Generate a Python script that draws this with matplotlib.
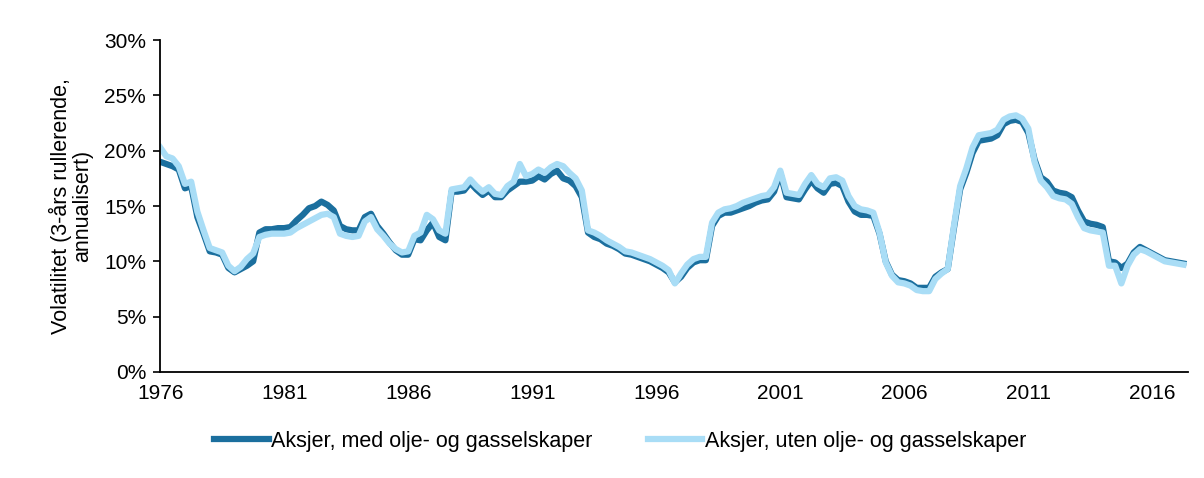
import numpy as np
import matplotlib.pyplot as plt
from matplotlib.ticker import PercentFormatter

plt.rcParams['font.family'] = ['Liberation Sans', 'DejaVu Sans']

# quarterly observations, 1976 Q1 .. 2017 Q2
start_year = 1976
med_olje = [
    19.0, 18.8, 18.6, 18.3, 16.6, 16.8, 14.0, 12.5,   # 1976-1977
    10.9, 10.8, 10.6, 9.4, 9.0, 9.3, 9.6, 10.0,       # 1978-1979
    12.6, 12.9, 12.9, 13.0, 13.0, 13.1, 13.7, 14.2,   # 1980-1981
    14.8, 15.0, 15.4, 15.1, 14.6, 13.2, 12.9, 12.8,   # 1982-1983
    12.8, 14.0, 14.3, 13.2, 12.5, 11.7, 11.0, 10.6,   # 1984-1985
    10.6, 12.0, 11.9, 12.8, 13.5, 12.2, 11.9, 16.3,   # 1986-1987
    16.3, 16.4, 17.1, 16.5, 16.0, 16.4, 15.8, 15.8,   # 1988-1989
    16.4, 16.8, 17.2, 17.2, 17.3, 17.7, 17.4, 17.9,   # 1990-1991
    18.2, 17.5, 17.3, 16.8, 15.8, 12.6, 12.2, 12.0,   # 1992-1993
    11.6, 11.4, 11.1, 10.7, 10.6, 10.4, 10.2, 10.0,   # 1994-1995
    9.7, 9.4, 9.0, 8.1, 8.6, 9.4, 9.9, 10.1,          # 1996-1997
    10.1, 13.2, 14.1, 14.4, 14.4, 14.6, 14.8, 15.0,   # 1998-1999
    15.3, 15.5, 15.6, 16.3, 18.0, 15.8, 15.7, 15.6,   # 2000-2001
    16.5, 17.3, 16.6, 16.2, 17.0, 17.1, 16.8, 15.4,   # 2002-2003
    14.5, 14.2, 14.2, 14.1, 12.5, 10.0, 8.8, 8.3,     # 2004-2005
    8.2, 8.0, 7.6, 7.6, 7.6, 8.6, 9.0, 9.3,           # 2006-2007
    13.0, 16.5, 18.0, 19.8, 20.9, 21.0, 21.1, 21.4,   # 2008-2009
    22.4, 22.7, 22.8, 22.6, 21.6, 19.2, 17.6, 17.2,   # 2010-2011
    16.4, 16.2, 16.1, 15.8, 14.6, 13.6, 13.4, 13.3,   # 2012-2013
    13.1, 10.0, 9.9, 9.4, 9.8, 10.8, 11.3, 11.0,      # 2014-2015
    10.7, 10.4, 10.1, 10.0, 9.9, 9.8,                 # 2016-2017
]
uten_olje = [
    20.3, 19.5, 19.3, 18.6, 17.0, 17.2, 14.5, 12.8,
    11.2, 11.0, 10.8, 9.6, 9.1, 9.5, 10.2, 10.7,
    12.2, 12.4, 12.5, 12.5, 12.5, 12.6, 13.0, 13.3,
    13.6, 13.9, 14.2, 14.3, 14.0, 12.5, 12.3, 12.2,
    12.3, 13.6, 14.0, 12.9, 12.3, 11.6, 11.1, 10.8,
    10.9, 12.3, 12.6, 14.2, 13.8, 12.8, 12.5, 16.5,
    16.6, 16.7, 17.4, 16.8, 16.3, 16.7, 16.1, 16.0,
    16.8, 17.2, 18.8, 17.7, 17.9, 18.3, 18.0, 18.5,
    18.8, 18.6, 18.0, 17.5, 16.4, 12.8, 12.6, 12.3,
    11.9, 11.6, 11.3, 10.9, 10.8, 10.6, 10.4, 10.2,
    9.9, 9.6, 9.2, 8.0, 8.9, 9.7, 10.2, 10.4,
    10.4, 13.5, 14.4, 14.7, 14.8, 15.0, 15.3, 15.5,
    15.7, 15.9, 16.0, 16.7, 18.2, 16.2, 16.1, 16.0,
    17.0, 17.8, 17.0, 16.7, 17.5, 17.6, 17.3, 15.9,
    15.0, 14.7, 14.6, 14.4, 12.6, 9.9, 8.7, 8.1,
    8.0, 7.8, 7.4, 7.3, 7.3, 8.4, 8.9, 9.3,
    13.2, 16.8, 18.4, 20.3, 21.4, 21.5, 21.6, 21.9,
    22.8, 23.1, 23.2, 22.9, 22.0, 19.0, 17.3, 16.7,
    15.9, 15.7, 15.6, 15.2, 14.0, 13.0, 12.8, 12.7,
    12.6, 9.6, 9.6, 8.0, 9.6, 10.6, 11.1, 10.9,
    10.6, 10.3, 10.0, 9.9, 9.8, 9.7,
]
tick_years = [1976, 1981, 1986, 1991, 1996, 2001, 2006, 2011, 2016]

t = start_year + np.arange(len(med_olje)) * 0.25

fig = plt.figure(figsize=(12.04, 4.78), dpi=100)
ax = fig.add_axes([0.133, 0.222, 0.854, 0.694])

ax.plot(t, med_olje, color='#1b6f9e', lw=4.5, solid_joinstyle='round',
        label='Aksjer, med olje- og gasselskaper')
ax.plot(t, uten_olje, color='#a9ddf6', lw=4.5, solid_joinstyle='round',
        label='Aksjer, uten olje- og gasselskaper')

ax.set_xlim(1976, 2017.45)
ax.set_ylim(0, 30)
ax.set_yticks(np.arange(0, 31, 5))
ax.yaxis.set_major_formatter(PercentFormatter(decimals=0))
ax.set_xticks(tick_years)
ax.set_xticklabels([str(y) for y in tick_years])
ax.tick_params(axis='y', length=5, width=1.2, labelsize=15, pad=5)
ax.tick_params(axis='x', length=0, labelsize=15, pad=9)
for s in ['top', 'right']:
    ax.spines[s].set_visible(False)
for s in ['left', 'bottom']:
    ax.spines[s].set_linewidth(1.3)
    ax.spines[s].set_color('black')

ax.set_ylabel('Volatilitet (3-års rullerende,\nannualisert)', fontsize=15.5,
              labelpad=8, linespacing=1.0)

fig.legend(loc='center', bbox_to_anchor=(0.515, 0.077), ncol=2, frameon=False,
           fontsize=15.5, handlelength=2.55, handletextpad=0.1, columnspacing=2.55)

plt.savefig('out.png', dpi=100)
